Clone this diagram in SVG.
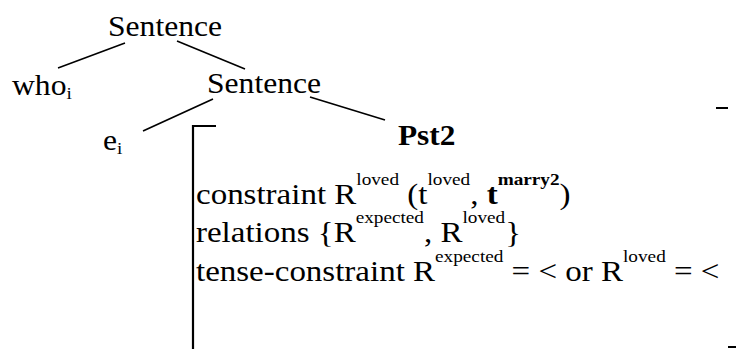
<svg xmlns="http://www.w3.org/2000/svg" width="736" height="349" viewBox="0 0 736 349">
<style>
.t{font-family:"Liberation Serif","Times New Roman",serif;font-size:29px;fill:#000}
.m{font-size:30px}
.s{font-size:17.5px}
.b{font-weight:bold}
.e{stroke:#000;stroke-width:1.6;fill:none}
.br{stroke:#000;stroke-width:2.2;fill:none}
</style>
<rect width="736" height="349" fill="#fff"/>
<g id="edges">
<line class="e" x1="125" y1="43" x2="58" y2="68"/>
<line class="e" x1="177" y1="41" x2="245" y2="69"/>
<line class="e" x1="213" y1="99" x2="143" y2="131"/>
<line class="e" x1="310" y1="97" x2="385" y2="120"/>
</g>
<g id="sentence1" transform="translate(108,0) scale(1.09,1)"><text class="t" x="0" y="36">Sentence</text></g>
<g id="who" transform="translate(12,0) scale(1.09,1)"><text class="t" x="0" y="95">who<tspan class="s" dy="4">i</tspan></text></g>
<g id="sentence2" transform="translate(207,0) scale(1.09,1)"><text class="t" x="0" y="93">Sentence</text></g>
<g id="e" transform="translate(103,0) scale(1.09,1)"><text class="t" x="0" y="150">e<tspan class="s" dy="4">i</tspan></text></g>
<g id="pst2">
<path class="br" d="M216,126 H193 V349"/>
<path class="br" d="M716,108 H728 M728,347 H736"/>
<g transform="translate(398,0) scale(1.08,1)"><text class="t b" x="0" y="145" style="font-size:29px">Pst2</text></g>
<g transform="translate(196,0) scale(1.1,1)">
<text class="t m" x="0" y="204">constraint R<tspan class="s" dy="-19">loved</tspan><tspan dy="19"> (t</tspan><tspan class="s" dy="-19">loved</tspan><tspan dy="19">, </tspan><tspan class="b">t</tspan><tspan class="s b" dy="-19">marry2</tspan><tspan dy="19">)</tspan></text>
<text class="t m" x="0" y="242">relations {R<tspan class="s" dy="-19">expected</tspan><tspan dy="19">, R</tspan><tspan class="s" dy="-19">loved</tspan><tspan dy="19">}</tspan></text>
<text class="t m" x="0" y="281">tense-constraint R<tspan class="s" dy="-19">expected</tspan><tspan dy="19"> = &lt; or R</tspan><tspan class="s" dy="-19">loved</tspan><tspan dy="19"> = &lt;</tspan></text>
</g>
</g>
</svg>
